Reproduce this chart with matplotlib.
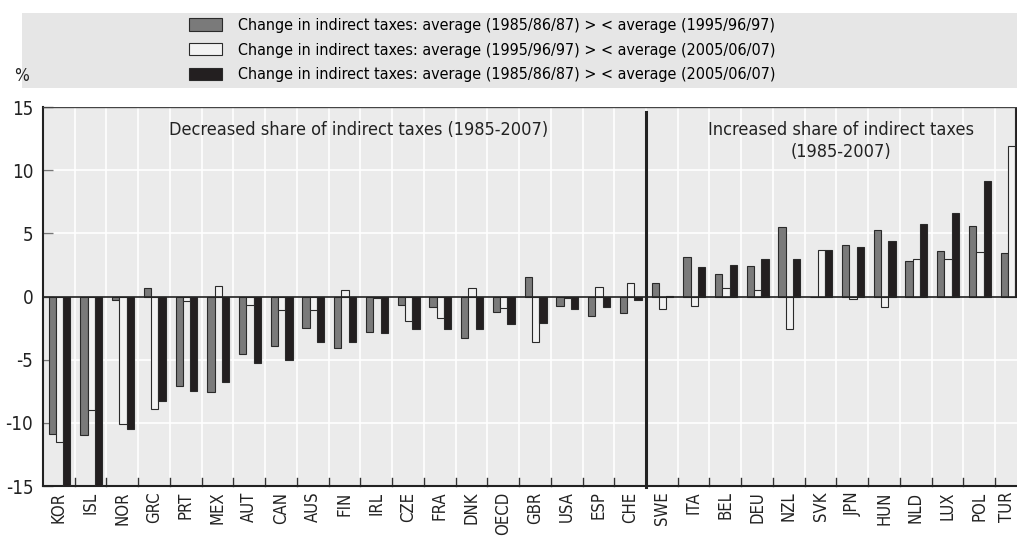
import matplotlib
matplotlib.use("Agg")
import matplotlib.pyplot as plt
from matplotlib.patches import Rectangle, Patch
from matplotlib import font_manager as fm
import matplotlib.transforms as mtransforms
import numpy as np

countries = ["KOR", "ISL", "NOR", "GRC", "PRT", "MEX", "AUT", "CAN", "AUS", "FIN",
             "IRL", "CZE", "FRA", "DNK", "OECD", "GBR", "USA", "ESP", "CHE", "SWE",
             "ITA", "BEL", "DEU", "NZL", "SVK", "JPN", "HUN", "NLD", "LUX", "POL", "TUR"]

chg_85_95 = [-10.9, -10.96, -0.3, 0.71, -7.1, -7.58, -4.57, -3.91, -2.51, -4.04,
             -2.8, -0.71, -0.85, -3.3, -1.24, 1.58, -0.77, -1.58, -1.29, 1.03,
             3.12, 1.82, 2.38, 5.47, 0.0, 4.07, 5.23, 2.8, 3.64, 5.57, 3.43]
chg_95_05 = [-11.5, -9.0, -10.06, -8.9, -0.32, 0.87, -0.69, -1.06, -1.06, 0.5,
             -0.13, -1.9, -1.74, 0.71, -0.92, -3.64, -0.13, 0.74, 1.06, -0.95,
             -0.79, 0.66, 0.55, -2.56, 3.72, -0.18, -0.85, 2.96, 2.96, 3.54, 11.9]
chg_85_05 = [-16.0, -16.0, -10.46, -8.24, -7.47, -6.73, -5.25, -5.02, -3.64, -3.62,
             -2.9, -2.61, -2.59, -2.56, -2.19, -2.06, -0.95, -0.85, -0.29, 0.05,
             2.35, 2.48, 2.93, 2.93, 3.72, 3.93, 4.38, 5.76, 6.6, 9.11, 16.0]

legend_labels = [
    "Change in indirect taxes: average (1985/86/87) > < average (1995/96/97)",
    "Change in indirect taxes: average (1995/96/97) > < average (2005/06/07)",
    "Change in indirect taxes: average (1985/86/87) > < average (2005/06/07)",
]
colors = ["#7a7a7a", "#f2f2f2", "#231f20"]

# pick a condensed font if one is installed
cond_path = None
for f in fm.fontManager.ttflist:
    nm = (f.fname + " " + f.name).lower()
    if ("narrow" in nm or "condensed" in nm or f.stretch in ("condensed", "semi-condensed")) \
            and "bold" not in nm and "italic" not in nm and "oblique" not in nm:
        if cond_path is None or "liberation" in nm:
            cond_path = f.fname
if cond_path:
    def FP(size):
        return fm.FontProperties(fname=cond_path, size=size)
else:
    def FP(size):
        return fm.FontProperties(family="Liberation Sans", size=size * 0.85)

W, H = 1017, 537
fig = plt.figure(figsize=(W / 100, H / 100), dpi=100)

fig.patches.append(Rectangle((22 / W, 1 - 88 / H), 1 - 22 / W, 75 / H,
                             transform=fig.transFigure, facecolor="#e6e6e6",
                             edgecolor="none", zorder=0))

ax = fig.add_axes([43 / W, 1 - 486 / H, 1 - 43 / W, (486 - 107) / H])
ax.set_facecolor("#ebebeb")

x = np.arange(len(countries))
bw = 0.23
offs = [-0.21, 0.02, 0.25]
series = [chg_85_95, chg_95_05, chg_85_05]
for s, o, c in zip(series, offs, colors):
    ax.bar(x + o, s, width=bw, color=c, edgecolor="#2a2a2a", linewidth=0.8, zorder=3)

ax.set_ylim(-15, 15)
ax.set_xlim(-0.5, 30.19)
ax.set_yticks([-15, -10, -5, 0, 5, 10, 15])
ax.set_yticklabels(["-15", "-10", "-5", "0", "5", "10", "15"])
ax.set_xticks(x)
ax.set_xticklabels(countries, rotation=90)
for lab in ax.get_xticklabels():
    lab.set_fontproperties(FP(12))
for lab in ax.get_yticklabels():
    lab.set_fontproperties(FP(13.5))
ax.tick_params(axis='x', length=0, pad=4, colors="#222222")
ax.tick_params(axis='y', direction='in', length=7, width=1, color="#777777",
               labelcolor="#222222", pad=7)
# keep the last, partly clipped category label inside the picture
last = ax.get_xticklabels()[-1]
last.set_transform(last.get_transform() + mtransforms.ScaledTranslation(-4 / 100, 0, fig.dpi_scale_trans))

for yv in [-10, -5, 5, 10]:
    ax.axhline(yv, color="white", linewidth=1.2, zorder=1)
for b in np.arange(0.5, 30.5, 1.0):
    ax.axvline(b, color="white", linewidth=1.2, zorder=1)
    ax.plot([b, b], [-15, -14.4], color="#333333", linewidth=1.0, zorder=2, clip_on=False)
ax.axhline(0, color="#222222", linewidth=1.2, zorder=4)

for side in ["top", "right"]:
    ax.spines[side].set_visible(False)
for side in ["left", "bottom"]:
    ax.spines[side].set_linewidth(1.5)
    ax.spines[side].set_color("#222222")
ax.axhline(15, color="#444444", linewidth=1.0, zorder=4)

ax.plot([18.5, 18.5], [14.6, -15.1], color="#222222", linewidth=2.2, zorder=5, clip_on=False)

ax.text(9.44, 13.2, "Decreased share of indirect taxes (1985-2007)", ha="center", va="center",
        fontproperties=FP(13), color="#222222", zorder=6)
ax.text(24.64, 12.3, "Increased share of indirect taxes\n(1985-2007)", ha="center", va="center",
        fontproperties=FP(13), color="#222222", linespacing=1.3, zorder=6)

handles = [Patch(facecolor=c, edgecolor="#2a2a2a", linewidth=0.8) for c in colors]
fig.legend(handles, legend_labels, loc="upper left", bbox_to_anchor=(189 / W, 1 - 18 / H),
           frameon=False, prop=FP(11.5), handlelength=2.05, handleheight=0.8,
           handletextpad=1.0, labelspacing=0.6, borderaxespad=0, borderpad=0)

fig.text(14 / W, 1 - 76 / H, "%", fontproperties=FP(12.5), ha="left", va="center", color="#222222")

fig.savefig("out.png", dpi=100)
